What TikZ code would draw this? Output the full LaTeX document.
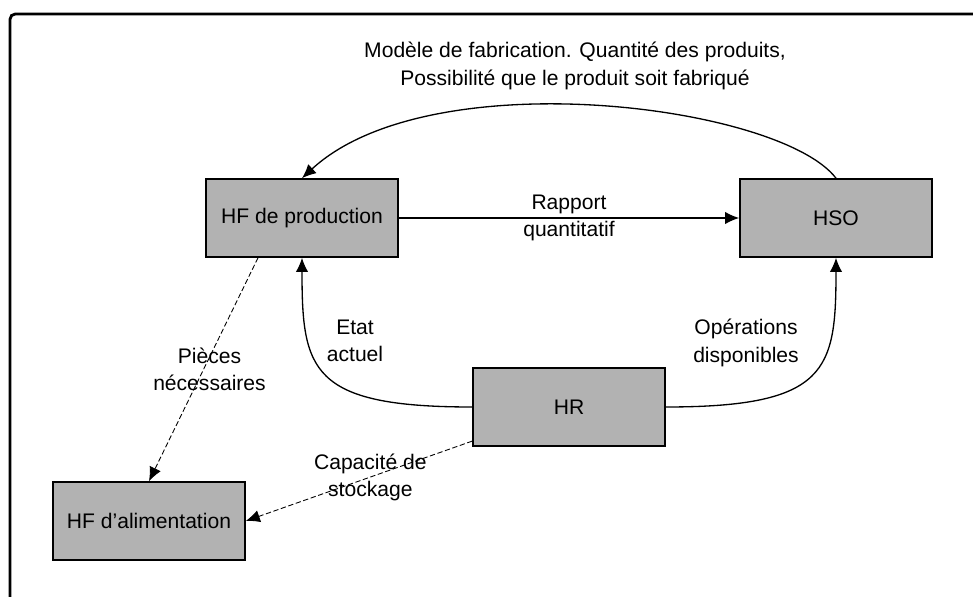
\documentclass[tikz,border=0pt]{standalone}
\usepackage{fontspec}
\setmainfont{Liberation Sans}
\usetikzlibrary{arrows.meta}

\tikzset{
  hbox/.style={draw, line width=0.9pt, fill=gray!60, minimum width=3.84cm, minimum height=1.56cm, inner sep=0pt, font=\fontsize{12}{15.5}\selectfont},
  lbl/.style={align=center, font=\fontsize{12}{15.5}\selectfont},
  flow/.style={-{Latex[length=8pt,width=7pt]}, line width=0.75pt},
  need/.style={flow, dash pattern=on 3pt off 1.5pt, line width=0.5pt},
}

\begin{document}
\begin{tikzpicture}[x=0.02cm, y=-0.02cm]
\useasboundingbox (0,0) rectangle (973,597);
% frame
\draw[line width=1.6pt, rounded corners=3pt] (10,597) -- (10,14) -- (973,14);
% boxes
\node[hbox] (prod) at (302,218) {HF de production};
\node[hbox] (hso) at (836,218) {HSO};
\node[hbox] (hr) at (569,407) {HR};
\node[hbox] (alim) at (149,521) {HF d'alimentation};
% flows
\draw[flow] (hso.north) .. controls (780,105) and (430,60) .. (prod.north);
\node[lbl] (lmod) at (575,66) {Modèle de fabrication. Quantité des produits,\\ Possibilité que le produit soit fabriqué};
\draw[flow] (prod) -- node[lbl] (lrap) {Rapport\\ quantitatif} (hso);
\draw[flow] (hr.west) .. controls (310,407) and (302,370) .. (prod.south);
\draw[flow] (hr.east) .. controls (828,407) and (836,370) .. (hso.south);
\node[lbl] (letat) at (355,341) {Etat\\ actuel};
\node[lbl] (lops) at (746,343) {Opérations\\ disponibles};
% needs
\draw[need] ([xshift=-0.88cm]prod.south) -- node[lbl, pos=0.5, xshift=0.12cm] (lpie) {Pièces\\ nécessaires} (alim.north);
\draw[need] (hr) -- node[lbl, pos=0.45] (lcap) {Capacité de\\ stockage} (alim.east);
\end{tikzpicture}
\end{document}
